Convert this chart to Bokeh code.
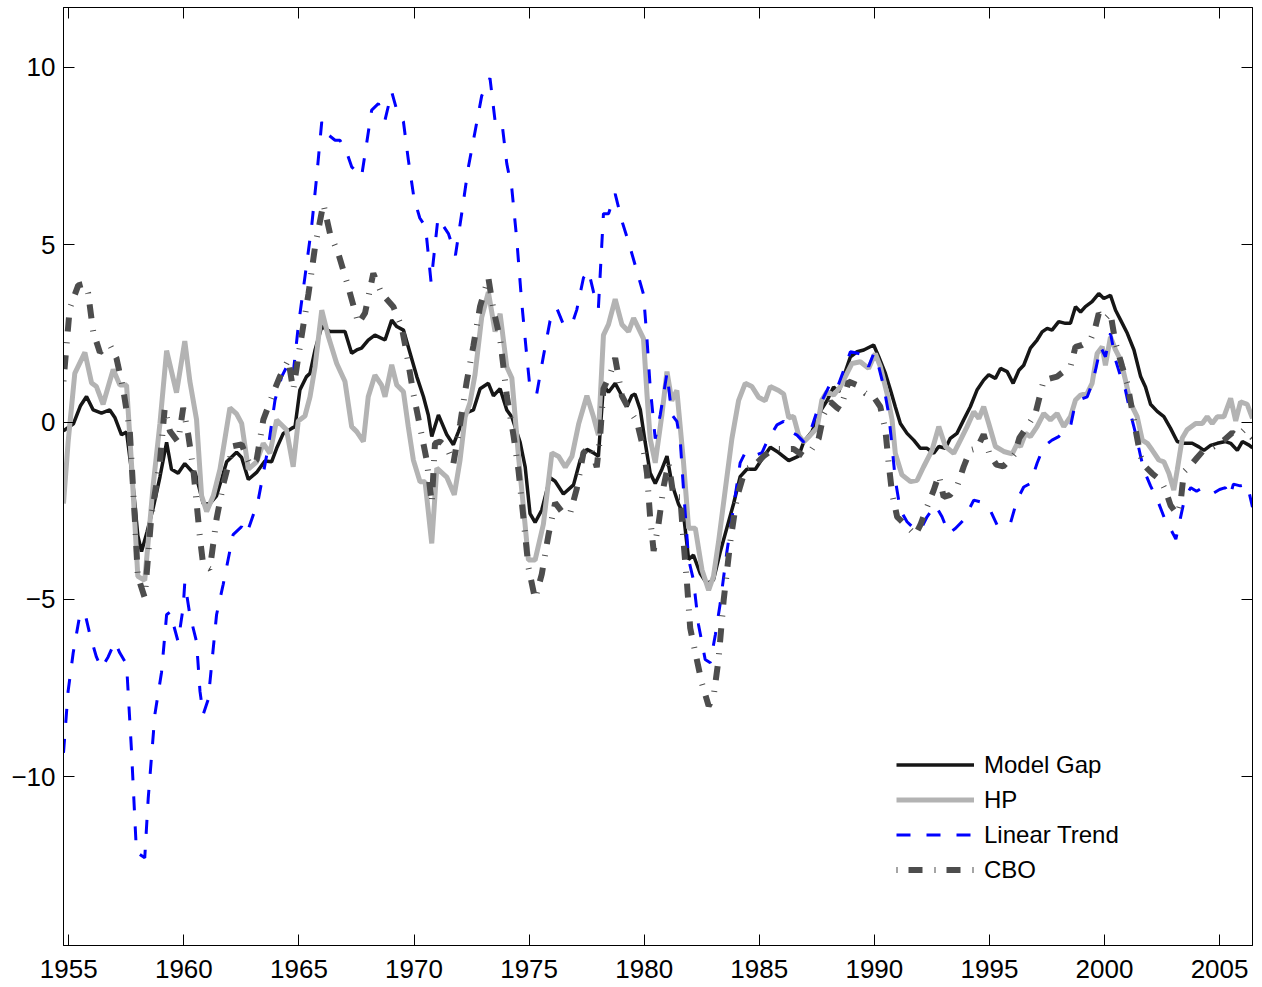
from bokeh.plotting import figure
from bokeh.models import Range1d, LinearAxis, FixedTicker, Legend, LegendItem, CustomJSTickFormatter
from bokeh.embed import file_html
from bokeh.resources import INLINE

# ---------------- data ----------------
model_years = [1954.77, 1955.2, 1955.5, 1955.77, 1956.06, 1956.42, 1956.78, 1957.0, 1957.29, 1957.51, 1957.75, 1958.0,
               1958.16, 1958.4, 1958.67, 1958.96, 1959.25, 1959.46, 1959.75, 1960.04, 1960.33, 1960.5, 1960.84, 1961.13,
               1961.42, 1961.86, 1962.29, 1962.51, 1962.8, 1963.16, 1963.52, 1963.81, 1964.03, 1964.32, 1964.68, 1964.83,
               1965.04, 1965.33, 1965.48, 1965.7, 1965.99, 1966.35, 1967.0, 1967.29, 1967.51, 1967.72, 1968.01, 1968.3,
               1968.74, 1969.03, 1969.25, 1969.54, 1969.83, 1970.12, 1970.41, 1970.62, 1970.77, 1971.06, 1971.42, 1971.71,
               1971.93, 1972.22, 1972.58, 1972.87, 1973.23, 1973.45, 1973.74, 1974.03, 1974.25, 1974.61, 1974.83, 1975.04,
               1975.26, 1975.55, 1975.91, 1976.13, 1976.49, 1976.93, 1977.22, 1977.51, 1977.8, 1978.01, 1978.23, 1978.45,
               1978.74, 1979.03, 1979.25, 1979.46, 1979.6, 1979.83, 1980.04, 1980.26, 1980.48, 1980.77, 1980.99, 1981.2,
               1981.49, 1981.71, 1981.93, 1982.14, 1982.43, 1982.72, 1983.01, 1983.3, 1983.59, 1983.88, 1984.17, 1984.46,
               1984.83, 1985.12, 1985.48, 1985.84, 1986.28, 1986.71, 1986.93, 1987.29, 1987.65, 1987.94, 1988.23, 1988.45,
               1988.74, 1988.96, 1989.25, 1989.54, 1989.97, 1990.19, 1990.48, 1990.7, 1990.91, 1991.13, 1991.42, 1991.71,
               1992.0, 1992.29, 1992.58, 1992.8, 1993.09, 1993.3, 1993.59, 1993.88, 1994.17, 1994.46, 1994.75, 1994.97,
               1995.26, 1995.48, 1995.77, 1996.03, 1996.28, 1996.49, 1996.78, 1997.07, 1997.29, 1997.51, 1997.72, 1998.01,
               1998.3, 1998.52, 1998.74, 1998.96, 1999.17, 1999.46, 1999.75, 1999.97, 2000.26, 2000.48, 2000.7, 2000.99,
               2001.28, 2001.57, 2001.78, 2002.0, 2002.29, 2002.58, 2002.87, 2003.16, 2003.45, 2003.81, 2004.1, 2004.32,
               2004.61, 2004.9, 2005.26, 2005.48, 2005.77, 2005.99, 2006.28, 2006.43]
model_gap = [-0.25, -0.05, 0.45, 0.72, 0.34, 0.25, 0.34, 0.13, -0.36, -0.28, -1.5, -3.2,
             -3.65, -3.1, -2.41, -1.55, -0.57, -1.33, -1.44, -1.17, -1.38, -1.44, -2.3, -2.3,
             -2.08, -1.12, -0.85, -1.0, -1.62, -1.42, -1.1, -1.12, -0.74, -0.32, -0.18, -0.13,
             0.9, 1.28, 1.37, 2.03, 2.69, 2.55, 2.55, 1.94, 2.03, 2.08, 2.31, 2.45,
             2.31, 2.87, 2.69, 2.59, 1.94, 1.28, 0.71, 0.2, -0.41, 0.2, -0.35, -0.64,
             -0.27, 0.24, 0.34, 0.94, 1.09, 0.74, 0.94, 0.34, 0.14, -0.57, -1.27, -2.58,
             -2.83, -2.48, -1.57, -1.67, -2.03, -1.77, -1.07, -0.77, -0.87, -0.97, 1.04, 0.84,
             1.09, 0.74, 0.44, 0.74, 0.79, 0.35, -0.56, -1.44, -1.73, -1.33, -0.96, -1.73,
             -2.31, -2.6, -3.87, -3.75, -4.26, -4.55, -4.45, -3.67, -2.99, -2.31, -1.54, -1.33,
             -1.33, -1.04, -0.71, -0.86, -1.09, -0.96, -0.56, -0.27, 0.3, 0.6, 0.99, 0.85,
             1.42, 1.84, 1.98, 2.03, 2.17, 1.84, 1.37, 0.9, 0.43, -0.04, -0.32, -0.51,
             -0.74, -0.74, -0.88, -0.69, -0.74, -0.46, -0.32, 0.06, 0.43, 0.9, 1.18, 1.33,
             1.23, 1.51, 1.42, 1.09, 1.46, 1.6, 2.08, 2.31, 2.54, 2.64, 2.59, 2.83,
             2.78, 2.78, 3.25, 3.1, 3.25, 3.39, 3.62, 3.48, 3.57, 3.15, 2.87, 2.5,
             2.03, 1.28, 0.99, 0.5, 0.3, 0.15, -0.18, -0.55, -0.6, -0.6, -0.7, -0.8,
             -0.66, -0.6, -0.55, -0.6, -0.8, -0.55, -0.65, -0.73]

hp_years = [1954.77, 1954.97, 1955.26, 1955.7, 1955.99, 1956.2, 1956.49, 1956.78, 1956.93, 1957.22, 1957.51, 1957.72,
            1958.0, 1958.3, 1958.67, 1958.96, 1959.25, 1959.68, 1960.04, 1960.26, 1960.55, 1960.77, 1960.99, 1961.28,
            1961.57, 1962.0, 1962.29, 1962.51, 1962.8, 1963.16, 1963.45, 1963.74, 1964.03, 1964.46, 1964.75, 1964.97,
            1965.26, 1965.48, 1965.7, 1965.99, 1966.28, 1966.64, 1967.0, 1967.29, 1967.51, 1967.8, 1968.01, 1968.3,
            1968.59, 1968.74, 1969.03, 1969.25, 1969.54, 1969.75, 1969.97, 1970.26, 1970.48, 1970.77, 1970.99, 1971.42,
            1971.75, 1972.0, 1972.22, 1972.43, 1972.65, 1972.94, 1973.23, 1973.52, 1973.74, 1974.03, 1974.25, 1974.54,
            1974.75, 1974.97, 1975.26, 1975.62, 1975.99, 1976.28, 1976.57, 1976.86, 1977.15, 1977.51, 1977.8, 1978.01,
            1978.23, 1978.45, 1978.74, 1979.03, 1979.32, 1979.54, 1979.97, 1980.12, 1980.26, 1980.48, 1980.77, 1980.99,
            1981.2, 1981.42, 1981.71, 1981.93, 1982.22, 1982.51, 1982.8, 1983.01, 1983.23, 1983.52, 1983.81, 1984.1,
            1984.39, 1984.68, 1984.97, 1985.26, 1985.48, 1985.84, 1986.06, 1986.28, 1986.49, 1986.71, 1986.93, 1987.22,
            1987.51, 1987.72, 1987.94, 1988.23, 1988.52, 1988.81, 1989.03, 1989.39, 1989.75, 1990.04, 1990.26, 1990.55,
            1990.77, 1990.91, 1991.2, 1991.57, 1991.86, 1992.14, 1992.51, 1992.8, 1993.09, 1993.45, 1993.74, 1994.03,
            1994.32, 1994.54, 1994.75, 1994.97, 1995.26, 1995.62, 1995.99, 1996.2, 1996.35, 1996.57, 1996.78, 1997.07,
            1997.36, 1997.65, 1997.94, 1998.23, 1998.52, 1998.74, 1998.96, 1999.25, 1999.46, 1999.68, 1999.9, 2000.04,
            2000.26, 2000.48, 2000.7, 2000.91, 2001.13, 2001.42, 2001.64, 2001.86, 2002.07, 2002.36, 2002.58, 2002.8,
            2003.01, 2003.16, 2003.38, 2003.59, 2003.96, 2004.25, 2004.46, 2004.68, 2004.9, 2005.19, 2005.48, 2005.7,
            2005.91, 2006.2, 2006.43]
hp = [-2.3, -0.57, 1.37, 1.96, 1.1, 1.0, 0.5, 1.15, 1.48, 1.04, 1.04, -1.12,
      -4.35, -4.46, -1.76, -0.04, 2.01, 0.83, 2.28, 1.15, 0.07, -2.08, -2.52, -2.08,
      -1.33, 0.4, 0.23, -0.04, -1.33, -1.12, -0.6, -0.88, 0.06, -0.22, -1.26, 0.03,
      0.17, 0.71, 1.56, 3.15, 2.4, 1.65, 1.14, -0.13, -0.27, -0.55, 0.71, 1.32,
      1.04, 0.71, 1.61, 1.04, 0.85, -0.13, -1.07, -1.68, -1.68, -3.42, -1.3, -1.55,
      -2.05, -1.07, 0.14, 0.54, 1.34, 2.95, 3.66, 2.55, 3.05, 1.55, 1.24, -0.97,
      -2.38, -3.89, -3.89, -2.88, -0.87, -0.97, -1.27, -0.97, -0.06, 0.74, 0.14, -0.37,
      2.45, 2.75, 3.46, 2.75, 2.55, 2.93, 2.35, 0.79, -0.47, -1.15, 0.21, 1.42,
      0.6, 0.89, -1.15, -2.99, -2.99, -4.16, -4.74, -4.35, -3.38, -1.92, -0.47, 0.6,
      1.09, 1.0, 0.7, 0.6, 1.0, 0.89, 0.79, 0.12, 0.16, -0.37, -0.56, -0.37,
      -0.17, 0.62, 0.85, 0.76, 0.99, 1.37, 1.65, 1.7, 1.51, 1.93, 1.56, 0.81,
      0.06, -0.88, -1.49, -1.68, -1.64, -1.26, -0.79, -0.13, -0.69, -0.88, -0.51, -0.13,
      0.29, 0.1, 0.43, -0.04, -0.69, -0.83, -0.9, -0.62, -0.69, -0.32, -0.41, -0.13,
      0.24, 0.06, 0.24, -0.13, 0.15, 0.62, 0.76, 0.81, 1.09, 1.93, 2.12, 1.6,
      2.4, 2.03, 1.75, 1.18, 0.53, 0.15, -0.51, -0.6, -0.79, -1.07, -1.12, -1.45,
      -1.92, -1.35, -0.45, -0.22, -0.04, -0.04, 0.15, -0.04, 0.15, 0.15, 0.67, 0.03,
      0.57, 0.5, 0.1]

lin_years = [1954.77, 1954.97, 1955.19, 1955.48, 1955.7, 1955.91, 1956.2, 1956.42, 1956.71, 1957.0, 1957.22, 1957.51,
             1957.72, 1957.94, 1958.3, 1958.45, 1958.74, 1959.03, 1959.25, 1959.4, 1959.75, 1959.97, 1960.04, 1960.26,
             1960.55, 1960.7, 1960.84, 1961.06, 1961.42, 1961.71, 1962.14, 1962.51, 1962.72, 1963.01, 1963.23, 1963.45,
             1963.67, 1963.96, 1964.25, 1964.54, 1964.75, 1964.97, 1965.26, 1965.55, 1965.77, 1965.99, 1966.2, 1966.57,
             1966.78, 1967.07, 1967.29, 1967.72, 1967.94, 1968.16, 1968.45, 1968.74, 1969.03, 1969.25, 1969.54, 1969.75,
             1970.0, 1970.25, 1970.5, 1970.74, 1971.04, 1971.25, 1971.5, 1971.8, 1972.07, 1972.36, 1972.65, 1972.94,
             1973.3, 1973.52, 1973.81, 1974.03, 1974.25, 1974.46, 1974.68, 1974.9, 1975.04, 1975.33, 1975.62, 1975.91,
             1976.2, 1976.49, 1976.86, 1977.07, 1977.36, 1977.58, 1977.8, 1978.01, 1978.23, 1978.45, 1978.74, 1979.03,
             1979.32, 1979.68, 1979.97, 1980.12, 1980.26, 1980.48, 1980.7, 1980.99, 1981.2, 1981.42, 1981.57, 1981.71,
             1981.93, 1982.14, 1982.36, 1982.65, 1982.87, 1983.09, 1983.3, 1983.59, 1983.88, 1984.17, 1984.39, 1984.75,
             1985.12, 1985.33, 1985.77, 1986.06, 1986.35, 1986.64, 1986.93, 1987.22, 1987.51, 1987.8, 1988.09, 1988.38,
             1988.67, 1988.96, 1989.32, 1989.54, 1989.75, 1989.97, 1990.19, 1990.41, 1990.62, 1990.77, 1990.91, 1991.13,
             1991.42, 1991.78, 1992.0, 1992.29, 1992.65, 1992.94, 1993.23, 1993.52, 1993.88, 1994.32, 1994.61, 1994.97,
             1995.33, 1995.62, 1995.91, 1996.2, 1996.49, 1996.78, 1997.07, 1997.36, 1997.72, 1998.01, 1998.3, 1998.52,
             1998.67, 1998.88, 1999.25, 1999.46, 1999.61, 1999.83, 2000.04, 2000.26, 2000.48, 2000.7, 2000.91, 2001.13,
             2001.35, 2001.57, 2001.71, 2002.0, 2002.3, 2002.6, 2002.9, 2003.1, 2003.3, 2003.5, 2003.75, 2004.0,
             2004.25, 2004.5, 2004.75, 2005.0, 2005.25, 2005.45, 2005.6, 2005.9, 2006.2, 2006.43]
linear_trend = [-9.32, -7.59, -6.51, -5.43, -5.38, -5.97, -6.62, -6.94, -6.62, -6.19, -6.51, -6.83,
                -9.21, -12.12, -12.28, -10.61, -8.24, -7.05, -5.43, -5.35, -6.19, -5.22, -4.52, -5.43,
                -6.19, -7.59, -8.24, -7.81, -5.43, -4.57, -3.17, -2.95, -3.17, -2.63, -2.2, -1.45,
                -0.69, 0.62, 1.28, 1.65, 1.37, 2.69, 4.09, 5.5, 6.91, 8.46, 8.13, 7.94,
                7.94, 7.61, 7.19, 6.91, 7.85, 8.79, 8.97, 8.51, 9.3, 8.79, 8.46, 7.4,
                6.3, 5.75, 5.5, 3.94, 5.75, 5.55, 5.3, 4.7, 5.87, 7.18, 8.18, 9.19,
                9.69, 8.49, 8.49, 7.28, 6.57, 5.17, 3.36, 1.85, 0.94, 0.79, 1.85, 2.85,
                3.21, 2.75, 2.75, 3.16, 4.06, 4.26, 3.66, 3.21, 5.87, 5.87, 6.43, 5.67,
                5.07, 4.26, 3.6, 2.35, 0.99, -0.47, 0.21, 1.38, 0.21, 0.02, -0.56, -1.92,
                -3.87, -4.45, -5.71, -6.69, -6.78, -6.0, -5.13, -3.67, -2.41, -1.15, -0.86, -0.96,
                -0.86, -0.56, -0.08, 0.02, -0.27, -0.37, -0.56, -0.27, 0.31, 0.7, 1.09, 0.95,
                1.46, 1.98, 1.93, 1.89, 1.56, 1.93, 1.56, 0.99, 0.24, -0.69, -1.63, -2.48,
                -2.81, -3.04, -3.04, -2.67, -2.34, -2.67, -3.14, -3.0, -2.76, -2.2, -2.25, -2.39,
                -2.9, -2.95, -2.86, -2.2, -1.83, -1.73, -1.16, -0.69, -0.51, -0.41, -0.22, -0.13,
                0.34, 0.62, 0.71, 1.09, 1.46, 2.12, 1.84, 2.5, 1.75, 1.28, 0.9, 0.24,
                -0.32, -0.97, -1.35, -1.8, -2.2, -2.7, -3.05, -3.3, -2.7, -2.1, -1.85, -1.95,
                -1.85, -1.95, -2.0, -1.9, -1.85, -2.1, -1.75, -1.8, -1.75, -2.4]

cbo_years = [1954.77, 1955.04, 1955.41, 1955.7, 1955.84, 1956.06, 1956.35, 1956.78, 1957.07, 1957.36, 1957.65, 1957.87,
             1958.0, 1958.3, 1958.59, 1958.96, 1959.17, 1959.39, 1959.75, 1959.97, 1960.19, 1960.41, 1960.7, 1960.84,
             1961.13, 1961.42, 1961.71, 1962.14, 1962.51, 1962.87, 1963.16, 1963.45, 1963.88, 1964.17, 1964.54, 1964.75,
             1965.04, 1965.41, 1965.7, 1966.06, 1966.35, 1966.71, 1967.14, 1967.58, 1967.87, 1968.23, 1968.59, 1969.1,
             1969.46, 1969.68, 1969.97, 1970.26, 1970.55, 1970.77, 1970.91, 1971.13, 1971.42, 1971.71, 1972.0, 1972.29,
             1972.58, 1972.87, 1973.23, 1973.45, 1973.74, 1974.03, 1974.32, 1974.54, 1974.75, 1974.97, 1975.26, 1975.55,
             1975.84, 1976.13, 1976.49, 1976.78, 1977.07, 1977.36, 1977.65, 1977.94, 1978.09, 1978.23, 1978.52, 1978.74,
             1979.03, 1979.39, 1979.68, 1979.97, 1980.12, 1980.26, 1980.41, 1980.62, 1980.84, 1981.06, 1981.28, 1981.57,
             1981.71, 1981.86, 1982.0, 1982.22, 1982.51, 1982.8, 1983.01, 1983.23, 1983.45, 1983.74, 1984.03, 1984.39,
             1984.75, 1985.19, 1985.62, 1986.06, 1986.49, 1986.93, 1987.29, 1987.58, 1987.8, 1988.09, 1988.38, 1988.52,
             1988.88, 1989.25, 1989.61, 1989.97, 1990.26, 1990.48, 1990.62, 1990.77, 1990.99, 1991.28, 1991.57, 1991.78,
             1992.0, 1992.29, 1992.58, 1992.8, 1993.01, 1993.3, 1993.6, 1993.88, 1994.17, 1994.46, 1994.75, 1995.0,
             1995.3, 1995.6, 1995.9, 1996.1, 1996.3, 1996.64, 1997.0, 1997.36, 1997.65, 1997.94, 1998.3, 1998.52,
             1998.74, 1999.03, 1999.39, 1999.61, 1999.75, 1999.97, 2000.26, 2000.48, 2000.77, 2000.99, 2001.2, 2001.35,
             2001.57, 2001.78, 2002.07, 2002.43, 2002.65, 2002.87, 2003.16, 2003.3, 2003.45, 2003.81, 2004.03, 2004.3,
             2004.75, 2005.19, 2005.55, 2005.77, 2006.06, 2006.28, 2006.43]
cbo = [1.15, 3.2, 3.85, 3.9, 3.63, 2.55, 1.96, 2.18, 1.8, 0.94, -0.25, -2.73,
       -4.35, -4.95, -2.63, -1.12, 0.4, -0.25, -0.57, 0.4, -0.36, -1.33, -3.27, -4.03,
       -4.14, -2.73, -1.76, -0.68, -0.63, -1.2, -1.07, 0.06, 0.81, 1.28, 1.75, 0.9,
       2.12, 3.6, 4.94, 6.15, 5.31, 4.75, 3.81, 2.78, 3.07, 4.19, 3.62, 3.25,
       2.69, 1.94, 0.81, -0.13, -1.07, -2.29, -0.6, -0.55, -0.7, -1.17, -0.06, 1.14,
       2.15, 3.26, 4.06, 3.16, 2.35, 0.74, -0.37, -1.37, -2.68, -4.09, -4.99, -4.29,
       -3.18, -2.28, -2.58, -2.58, -1.88, -0.87, -0.67, -1.27, -0.37, 0.94, 1.34, 1.8,
       0.74, 0.3, 0.02, -0.76, -1.44, -2.7, -3.63, -2.89, -1.83, -1.15, -2.12, -2.12,
       -3.37, -4.55, -5.81, -6.49, -7.37, -8.0, -7.76, -6.69, -5.04, -3.38, -2.12, -1.33,
       -1.25, -0.96, -0.76, -0.76, -0.76, -0.96, -0.76, -0.47, 0.21, 0.57, 0.4, 0.34,
       1.14, 1.04, 0.81, 0.71, 0.43, -0.23, -1.16, -2.01, -2.67, -2.86, -3.04, -3.18,
       -2.9, -2.39, -1.92, -1.49, -2.11, -2.05, -1.8, -1.26, -0.79, -0.74, -0.35, -0.9,
       -1.2, -1.25, -1.05, -0.9, -0.45, -0.13, 0.24, 1.18, 1.23, 1.28, 1.46, 1.56,
       2.12, 2.17, 2.31, 2.69, 3.06, 2.87, 3.06, 2.22, 1.56, 1.09, 0.34, -0.22,
       -0.97, -1.26, -1.45, -1.64, -1.92, -2.35, -2.6, -2.3, -1.4, -1.17, -1.0, -0.8,
       -0.69, -0.51, -0.3, -0.41, -0.22, -0.35, -0.45]

x_ticks = [1955, 1960, 1965, 1970, 1975, 1980, 1985, 1990, 1995, 2000, 2005]
y_ticks = [-10, -5, 0, 5, 10]
series_labels = ["Model Gap", "HP", "Linear Trend", "CBO"]

# ---------------- figure ----------------
FONT = "Liberation Sans"
p = figure(frame_width=1189, frame_height=938,
           x_range=Range1d(1954.77, 2006.43), y_range=Range1d(-14.75, 11.68),
           output_backend="svg", toolbar_location=None,
           min_border_left=63, min_border_top=7, min_border_right=6, min_border_bottom=38)
p.xgrid.visible = False
p.ygrid.visible = False
p.outline_line_color = "black"
p.outline_line_width = 1
p.background_fill_color = "white"
p.border_fill_color = "white"

xfmt = CustomJSTickFormatter(code="return tick.toFixed(0);")
yfmt = CustomJSTickFormatter(code="return tick < 0 ? '\u2212' + Math.abs(tick).toFixed(0) : tick.toFixed(0);")
blank = CustomJSTickFormatter(code="return '';")


def style_axis(ax, fmt, ticks, standoff=10):
    ax.ticker = FixedTicker(ticks=ticks)
    ax.formatter = fmt
    ax.major_tick_in = 11
    ax.major_tick_out = 0
    ax.minor_tick_in = 0
    ax.minor_tick_out = 0
    ax.major_tick_line_color = "black"
    ax.axis_line_color = "black"
    ax.major_label_standoff = standoff
    ax.major_label_text_font = FONT
    ax.major_label_text_font_size = "26px"
    ax.major_label_text_color = "black"


style_axis(p.xaxis[0], xfmt, x_ticks, 14)
style_axis(p.yaxis[0], yfmt, y_ticks, 8)

top_ax = LinearAxis()
style_axis(top_ax, blank, x_ticks, 0)
top_ax.major_label_text_font_size = "1px"
p.add_layout(top_ax, "above")
right_ax = LinearAxis()
style_axis(right_ax, blank, y_ticks, 0)
right_ax.major_label_text_font_size = "1px"
p.add_layout(right_ax, "right")

r_model = p.line(model_years, model_gap, line_color="#161616", line_width=3.5)
r_hp = p.line(hp_years, hp, line_color="#b3b3b3", line_width=5)
r_lin = p.line(lin_years, linear_trend, line_color="#0000ff", line_width=3, line_dash="14 16")
r_cbo = p.line(cbo_years, cbo, line_color="#4d4d4d", line_width=6, line_dash="1 11 14 12")

legend = Legend(items=[LegendItem(label=series_labels[0], renderers=[r_model]),
                       LegendItem(label=series_labels[1], renderers=[r_hp]),
                       LegendItem(label=series_labels[2], renderers=[r_lin]),
                       LegendItem(label=series_labels[3], renderers=[r_cbo])],
                location=(833, 58), orientation="vertical",
                glyph_width=78, glyph_height=35, label_height=35, spacing=0,
                padding=0, margin=0, label_standoff=10,
                label_text_font=FONT, label_text_font_size="24px", label_text_color="black",
                border_line_alpha=0, background_fill_alpha=0)
p.add_layout(legend)

open("out.html", "w").write(file_html(p, INLINE))
